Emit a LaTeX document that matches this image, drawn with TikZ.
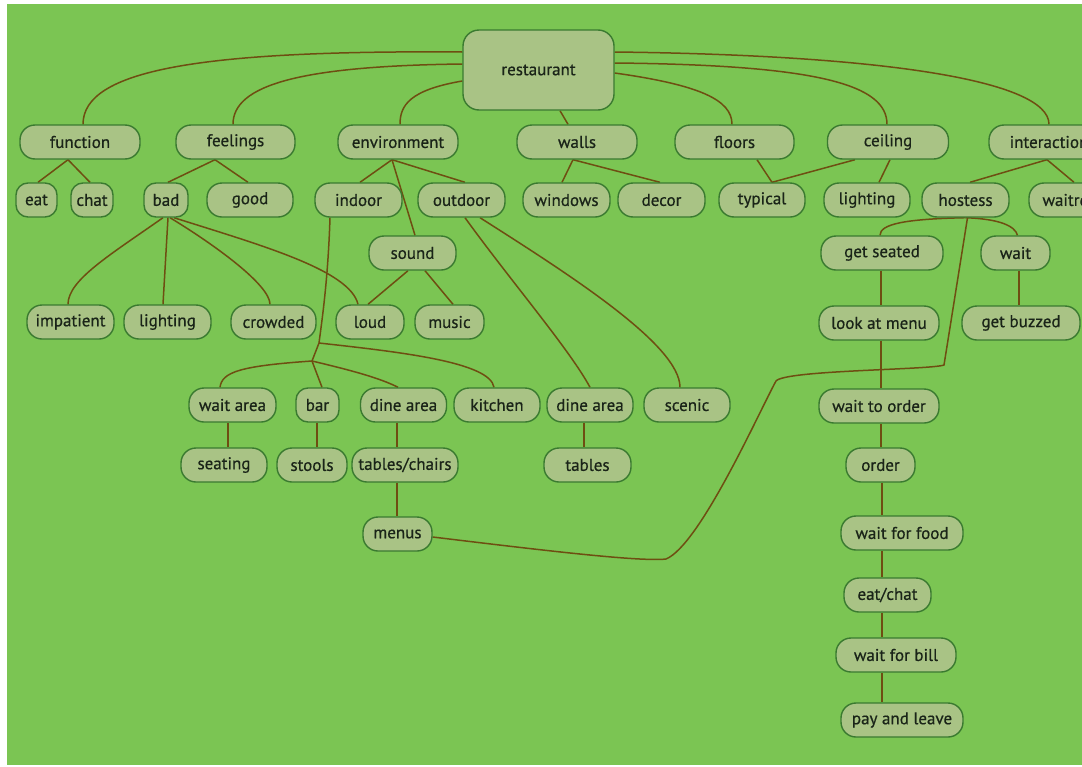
\documentclass[tikz,border=0pt]{standalone}
\usepackage{fontspec}
\setmainfont{PT Sans}
\newfontfamily\boxfont[FakeBold=0.6]{PT Sans}
\pgfdeclarelayer{bg}
\pgfdeclarelayer{edges}
\pgfsetlayers{bg,edges,main}
\definecolor{paper}{HTML}{7BC553}
\definecolor{nodefill}{HTML}{A9C385}
\definecolor{nodeedge}{HTML}{3A7A30}
\definecolor{linkcol}{HTML}{6E4E12}
\definecolor{textcol}{HTML}{1A2418}
\tikzset{
  box/.style={draw=nodeedge, fill=nodefill, rounded corners=15pt, line width=1.4pt,
    minimum height=34pt, inner sep=0pt, font=\boxfont\fontsize{17}{19}\selectfont, text=textcol},
  link/.style={draw=linkcol, line width=1.5pt},
}
\begin{document}
\begin{tikzpicture}[x=1pt, y=-1pt]
\useasboundingbox (0,0) rectangle (1082,766);
\clip (0,0) rectangle (1082,766);
\begin{pgfonlayer}{bg}
  \fill[white] (0,0) rectangle (1082,766);
  \fill[paper] (7,4) rectangle (1082,765);
\end{pgfonlayer}

% root
\node[box, rounded corners=16pt, minimum width=151pt, minimum height=80pt] (restaurant) at (538.5,70) {restaurant};

% first level
\node[box, minimum width=120pt] (function) at (80,142) {function};
\node[box, minimum width=119pt] (feelings) at (235.5,142) {feelings};
\node[box, minimum width=120pt] (environment) at (398,142) {environment};
\node[box, minimum width=120pt] (walls) at (577,142) {walls};
\node[box, minimum width=119pt] (floors) at (734.5,142) {floors};
\node[box, minimum width=121pt] (ceiling) at (888,142) {ceiling};
\node[box, minimum width=120pt] (interaction) at (1049,142) {interaction};

% second level
\node[box, rounded corners=12pt, minimum width=41pt] (eat) at (36.5,200) {eat};
\node[box, rounded corners=12pt, minimum width=42pt] (chat) at (92,200) {chat};
\node[box, rounded corners=12pt, minimum width=44pt] (bad) at (166,200) {bad};
\node[box, minimum width=86pt] (good) at (250,200) {good};
\node[box, minimum width=87pt] (indoor) at (358.5,200) {indoor};
\node[box, minimum width=87pt] (outdoor) at (461.5,200) {outdoor};
\node[box, minimum width=87pt] (windows) at (566.5,200) {windows};
\node[box, minimum width=87pt] (decor) at (661.5,200) {decor};
\node[box, minimum width=86pt] (typical) at (762,200) {typical};
\node[box, minimum width=86pt] (lightc) at (867,200) {lighting};
\node[box, minimum width=87pt] (hostess) at (965.5,200) {hostess};
\node[box, minimum width=87pt] (waitress) at (1072.5,200) {waitress};

% third level
\node[box, minimum width=87pt] (sound) at (412.5,253) {sound};
\node[box, minimum width=122pt] (getseated) at (882,253) {get seated};
\node[box, minimum width=69pt] (wait) at (1015.5,253) {wait};

\node[box, minimum width=87pt] (impatient) at (70.5,322) {impatient};
\node[box, minimum width=87pt] (lightb) at (167.5,322) {lighting};
\node[box, minimum width=85pt] (crowded) at (273.5,322) {crowded};
\node[box, minimum width=68pt] (loud) at (370,322) {loud};
\node[box, minimum width=69pt] (music) at (449.5,322) {music};
\node[box, minimum width=120pt] (lookmenu) at (879,323) {look at menu};
\node[box, minimum width=118pt] (getbuzzed) at (1021,323) {get buzzed};

% areas
\node[box, minimum width=87pt] (waitarea) at (232.5,405) {wait area};
\node[box, rounded corners=12pt, minimum width=43pt] (bar) at (317.5,405) {bar};
\node[box, minimum width=86pt] (dinea) at (403.5,405) {dine area};
\node[box, minimum width=86pt] (kitchen) at (497,405) {kitchen};
\node[box, minimum width=86pt] (dineb) at (590,405) {dine area};
\node[box, minimum width=86pt] (scenic) at (687,405) {scenic};
\node[box, minimum width=120pt] (waitorder) at (879,406) {wait to order};

\node[box, minimum width=86pt] (seating) at (224,465) {seating};
\node[box, minimum width=70pt] (stools) at (312,465) {stools};
\node[box, minimum width=106pt] (tablechairs) at (405,465) {tables/chairs};
\node[box, minimum width=87pt] (tables) at (587.5,465) {tables};
\node[box, minimum width=69pt] (order) at (880.5,465) {order};

\node[box, minimum width=69pt] (menus) at (397.5,534) {menus};
\node[box, minimum width=122pt] (waitfood) at (902,533) {wait for food};
\node[box, minimum width=87pt] (eatchat) at (887.5,595) {eat/chat};
\node[box, minimum width=120pt] (waitbill) at (896,655) {wait for bill};
\node[box, minimum width=122pt] (payleave) at (902,720) {pay and leave};

% junctions on the indoor trunk
\coordinate (j1) at (319,343);
\coordinate (j2) at (312,361);

\begin{pgfonlayer}{edges}
  % root branches
  \draw[link] ([yshift=18pt]restaurant.west) .. controls (200,50) and (83,70) .. ([xshift=3pt]function.north);
  \draw[link] ([yshift=6pt]restaurant.west) .. controls (300,66) and (233,85) .. ([xshift=-2.5pt]feelings.north);
  \draw[link] ([yshift=-11pt]restaurant.west) .. controls (410,90) and (400,105) .. ([xshift=2pt]environment.north);
  \draw[link] ([xshift=21.5pt]restaurant.south) -- ([xshift=-9pt]walls.north);
  \draw[link] ([yshift=-3pt]restaurant.east) .. controls (700,85) and (732,100) .. ([xshift=-2.5pt]floors.north);
  \draw[link] ([yshift=7pt]restaurant.east) .. controls (820,65) and (887,85) .. ([xshift=-1pt]ceiling.north);
  \draw[link] ([yshift=18pt]restaurant.east) .. controls (880,55) and (1049,80) .. (interaction.north);

  % first level to second level
  \draw[link] ([xshift=-12pt]function.south) -- ([xshift=1.5pt]eat.north);
  \draw[link] ([xshift=-12pt]function.south) -- ([xshift=-2pt]chat.north);
  \draw[link] ([xshift=-20.5pt]feelings.south) -- ([xshift=2pt]bad.north);
  \draw[link] ([xshift=-20.5pt]feelings.south) -- ([xshift=-2pt]good.north);
  \draw[link] ([xshift=-6pt]environment.south) -- ([xshift=1.5pt]indoor.north);
  \draw[link] ([xshift=-6pt]environment.south) -- ([xshift=3.5pt]outdoor.north);
  \draw[link] ([xshift=-6pt]environment.south) -- ([xshift=2.5pt]sound.north);
  \draw[link] ([xshift=-4pt]walls.south) -- ([xshift=-4.5pt]windows.north);
  \draw[link] ([xshift=-4pt]walls.south) -- ([xshift=-1.5pt]decor.north);
  \draw[link] ([xshift=22.5pt]floors.south) -- ([xshift=10pt]typical.north);
  \draw[link] ([xshift=-33pt]ceiling.south) -- ([xshift=10pt]typical.north);
  \draw[link] ([xshift=2pt]ceiling.south) -- ([xshift=12pt]lightc.north);
  \draw[link] ([xshift=-2pt]interaction.south) -- ([xshift=4.5pt]hostess.north);
  \draw[link] ([xshift=-2pt]interaction.south) -- ([xshift=1.5pt]waitress.north);

  % feelings: bad
  \draw[link] ([xshift=-3pt]bad.south) .. controls (110,255) and (68,280) .. ([xshift=-2.5pt]impatient.north);
  \draw[link] ([xshift=2pt]bad.south) -- ([xshift=-4.5pt]lightb.north);
  \draw[link] ([xshift=4pt]bad.south) .. controls (215,245) and (270,285) .. ([xshift=-3.5pt]crowded.north);
  \draw[link] ([xshift=8pt]bad.south) .. controls (260,245) and (350,270) .. ([xshift=-12pt]loud.north);

  % sound
  \draw[link] ([xshift=-4.5pt]sound.south) -- ([xshift=-2pt]loud.north);
  \draw[link] ([xshift=12.5pt]sound.south) -- ([xshift=3.5pt]music.north);

  % outdoor
  \draw[link] ([xshift=3.5pt]outdoor.south) .. controls (510,280) and (570,350) .. (dineb.north);
  \draw[link] ([xshift=18.5pt]outdoor.south) .. controls (570,275) and (680,345) .. ([xshift=-7pt]scenic.north);

  % indoor
  \draw[link] ([xshift=-28.5pt]indoor.south) .. controls (328,280) and (322,320) .. (j1) -- (j2);
  \draw[link] (j1) .. controls (400,352) and (490,362) .. ([xshift=-3pt]kitchen.north);
  \draw[link] (j2) .. controls (240,366) and (222,372) .. ([xshift=-12.5pt]waitarea.north);
  \draw[link] (j2) -- ([xshift=4.5pt]bar.north);
  \draw[link] (j2) .. controls (350,370) and (380,378) .. ([xshift=-5.5pt]dinea.north);

  \draw[link] ([xshift=-4.5pt]waitarea.south) -- ([xshift=4pt]seating.north);
  \draw[link] ([xshift=-0.5pt]bar.south) -- ([xshift=5pt]stools.north);
  \draw[link] ([xshift=-6.5pt]dinea.south) -- ([xshift=-8pt]tablechairs.north);
  \draw[link] ([xshift=-8pt]tablechairs.south) -- ([xshift=-0.5pt]menus.north);
  \draw[link] ([xshift=-6pt]dineb.south) -- ([xshift=-3.5pt]tables.north);

  % interaction: hostess sequence
  \draw[link] (hostess.south) .. controls (905,219) and (880,224) .. ([xshift=-2pt]getseated.north);
  \draw[link] (hostess.south) .. controls (1000,219) and (1015,226) .. ([xshift=2pt]wait.north);
  \draw[link] ([xshift=3.5pt]wait.south) -- ([xshift=-2pt]getbuzzed.north);
  \draw[link] ([xshift=-1pt]getseated.south) -- ([xshift=2pt]lookmenu.north);
  \draw[link] ([xshift=2pt]lookmenu.south) -- ([xshift=2pt]waitorder.north);
  \draw[link] ([xshift=2pt]waitorder.south) -- ([xshift=0.5pt]order.north);
  \draw[link] ([xshift=1.5pt]order.south) -- ([xshift=-20pt]waitfood.north);
  \draw[link] ([xshift=-20pt]waitfood.south) -- ([xshift=-5.5pt]eatchat.north);
  \draw[link] ([xshift=-5.5pt]eatchat.south) -- ([xshift=-14pt]waitbill.north);
  \draw[link] ([xshift=-14pt]waitbill.south) -- ([xshift=-20pt]payleave.north);

  % menus back to the hostess
  \draw[link] ([yshift=-3pt]menus.east) .. controls (540,550) and (640,562) .. (666,559)
     .. controls (700,545) and (760,410) .. (776,381)
     .. controls (785,370) and (930,370) .. (944,365) -- ([xshift=2pt]hostess.south);
\end{pgfonlayer}
\end{tikzpicture}
\end{document}
